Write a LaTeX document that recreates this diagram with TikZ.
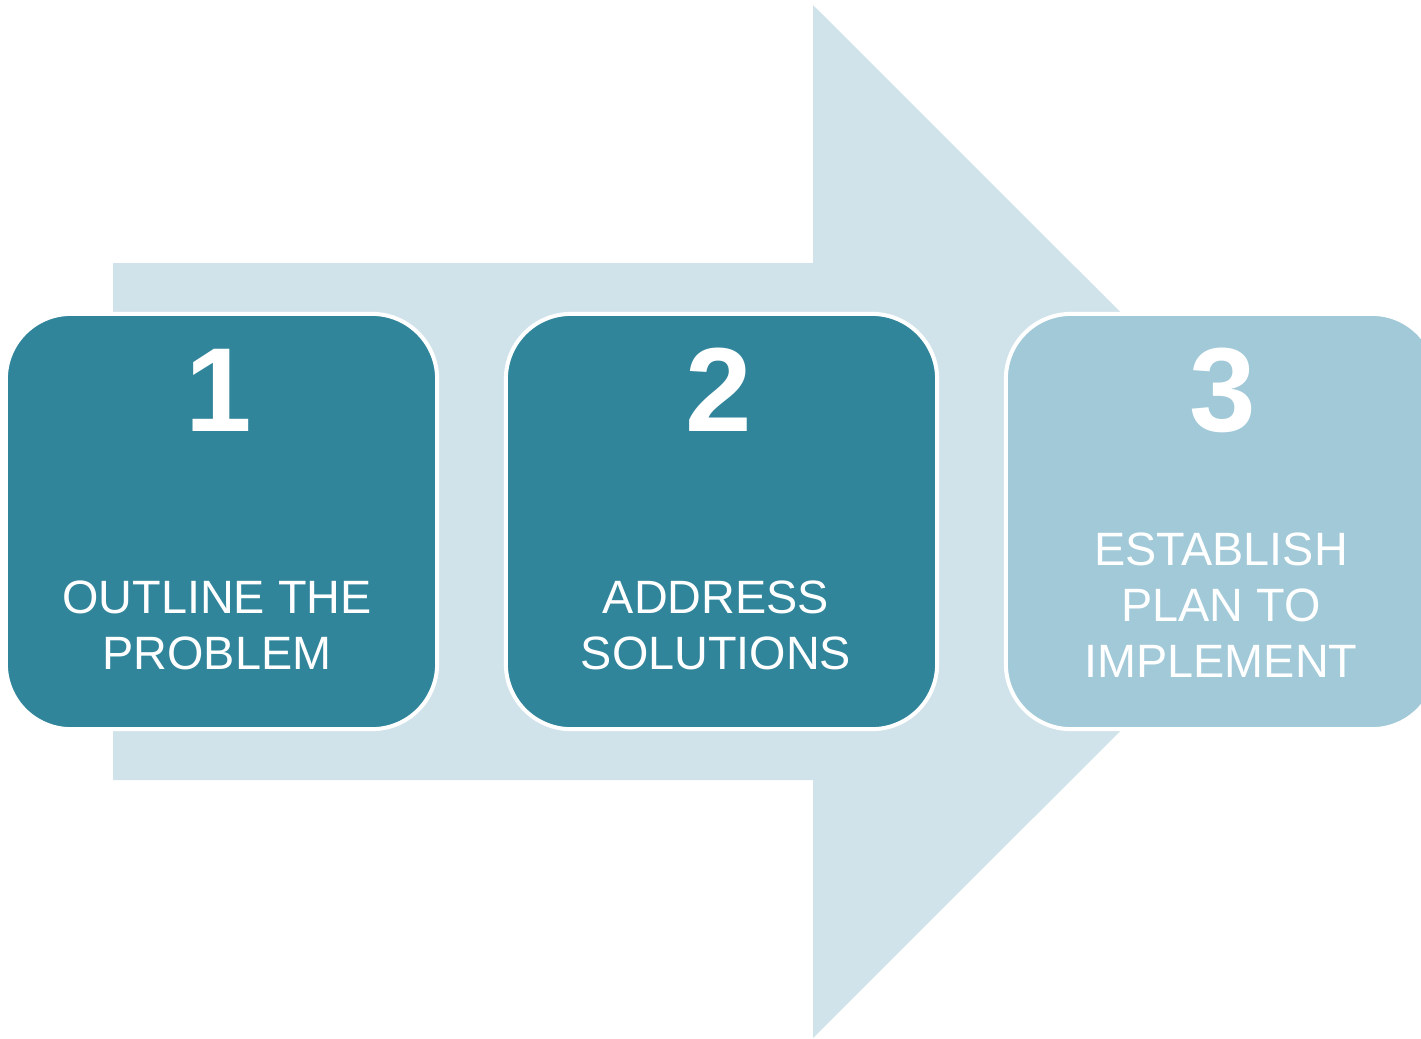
\documentclass[tikz,border=0pt]{standalone}
\usepackage{fontspec}
\setmainfont{Liberation Sans}
\usetikzlibrary{positioning}
\definecolor{stepdark}{RGB}{49,133,155}
\definecolor{steplight}{RGB}{161,201,216}
\definecolor{arrowpale}{RGB}{209,227,234}
\tikzset{
	stepbox/.style={draw=white, line width=0.04cm, rounded corners=0.65cm,
		minimum width=4.31cm, minimum height=4.15cm, inner sep=0pt},
	stepnum/.style={text=white, inner sep=0pt, anchor=base,
		font=\fontsize{34}{38}\selectfont\bfseries},
	steptext/.style={text=white, inner sep=0pt, align=center,
		font=\fontsize{13.3}{15.9}\selectfont}
}

\begin{document}
\begin{tikzpicture}[x=0.01cm, y=-0.01cm]
		%%%%% START %%%%%
		\useasboundingbox (0, 0) rectangle (1421, 1038);
		
		% big arrow behind
		\fill[arrowpale] (113, 263) -- (813, 263) -- (813, 5) -- (1330, 521.5)
			-- (813, 1038) -- (813, 780) -- (113, 780) -- cycle;
		
		% boxes
		\node[stepbox, fill=stepdark] (box1) at (221.5, 521.5) {};
		\node[stepbox, fill=stepdark] (box2) at (721.5, 521.5) {};
		\node[stepbox, fill=steplight] (box3) at (1221.5, 521.5) {};
		
		% numbers
		\node[stepnum] (num1) at (219, 431) {1};
		\node[stepnum] (num2) at (719, 431) {2};
		\node[stepnum] (num3) at (1223, 431) {3};
		
		% texts
		\node[steptext] (txt1) at (217, 625) {OUTLINE THE\\PROBLEM};
		\node[steptext] (txt2) at (716, 625) {ADDRESS\\SOLUTIONS};
		\node[steptext] (txt3) at (1221, 605) {ESTABLISH\\PLAN TO\\IMPLEMENT};
		
		%%%%% END %%%%%
	\end{tikzpicture}
\end{document}
